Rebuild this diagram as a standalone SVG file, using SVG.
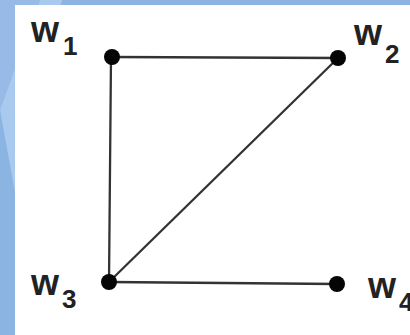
<svg xmlns="http://www.w3.org/2000/svg" width="410" height="335" viewBox="0 0 410 335">
<style>
.edge{stroke:#333;stroke-width:2.3;stroke-linecap:round}
.dot{fill:#050505}
.lbl{font-family:"Liberation Sans",Arial,sans-serif;font-weight:bold;fill:#222}
.w{font-size:36px}
.s{font-size:26px}
</style>
<rect x="0" y="0" width="410" height="335" fill="#8CB4E3"/>
<polygon points="0,0 40,0 0,110" fill="#97BBE6"/>
<polygon points="40,0 62,0 15,192 0,110" fill="#A9C9EE"/>
<rect x="15" y="5" width="395" height="330" fill="#FFFFFF"/>
<g id="connectors">
<line class="edge" x1="112" y1="57" x2="338" y2="58"/>
<line class="edge" x1="111" y1="57" x2="109" y2="282"/>
<line class="edge" x1="109" y1="282" x2="338" y2="58"/>
<line class="edge" x1="109" y1="282" x2="337" y2="284"/>
</g>
<g id="w1">
<circle class="dot" cx="112" cy="57" r="8"/>
<text class="lbl w" x="31" y="42">w</text>
<text class="lbl s" x="63" y="55">1</text>
</g>
<g id="w2">
<circle class="dot" cx="338" cy="58" r="8"/>
<text class="lbl w" x="354" y="45">w</text>
<text class="lbl s" x="385" y="63">2</text>
</g>
<g id="w3">
<circle class="dot" cx="109" cy="282" r="8"/>
<text class="lbl w" x="31" y="295">w</text>
<text class="lbl s" x="62" y="308">3</text>
</g>
<g id="w4">
<circle class="dot" cx="337" cy="284" r="8"/>
<text class="lbl w" x="368" y="298">w</text>
<text class="lbl s" x="399" y="311">4</text>
</g>
</svg>
